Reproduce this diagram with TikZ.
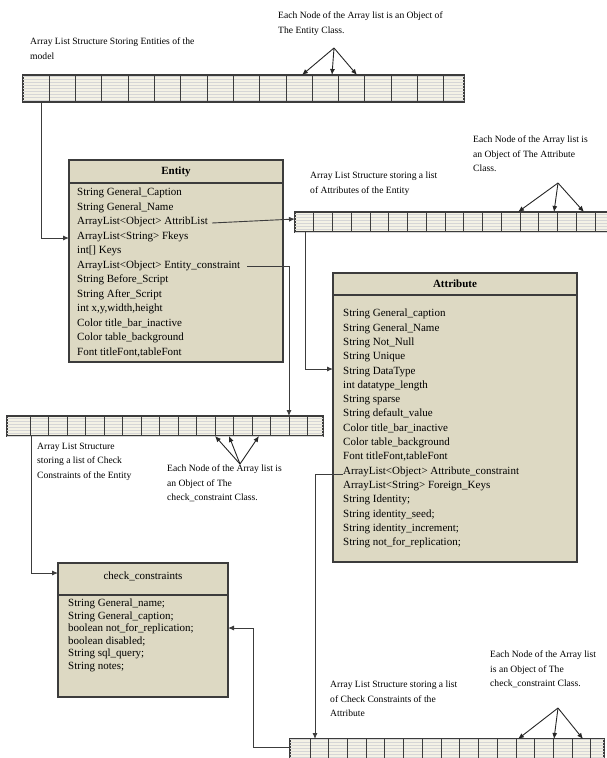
\documentclass[tikz,border=0pt]{standalone}
\usepackage{fontspec}
\setmainfont{Liberation Serif}
\usetikzlibrary{arrows.meta,patterns}
\definecolor{boxfill}{HTML}{DDD9C3}
\definecolor{cellfill}{HTML}{F4F2E6}
\definecolor{edge}{HTML}{3C3C3C}
\tikzset{
  arraybar/.style={draw=edge,line width=1.2pt,fill=cellfill,postaction={pattern=horizontal lines,pattern color=black!16},inner sep=0pt,outer sep=0pt,anchor=north west},
  divider/.style={draw=edge,line width=1pt},
  classbox/.style={draw=edge,line width=1.3pt,fill=boxfill,inner sep=0pt,outer sep=0pt,anchor=north west},
  titlesep/.style={draw=edge,line width=1.1pt},
  classtitle/.style={inner sep=0pt,font=\fontsize{11}{13}\selectfont\bfseries},
  fields/.style={anchor=north west,inner sep=0pt,align=left},
  note/.style={anchor=north west,inner sep=0pt,align=left,font=\fontsize{9.6}{14.3}\selectfont},
  link/.style={draw=edge,line width=0.9pt,-{Latex[length=6pt,width=5pt]}},
  pointer/.style={draw=black!85,line width=0.9pt,-{Latex[length=6pt,width=5pt]}}
}
\begin{document}
\begin{tikzpicture}[x=1pt,y=-1pt]
\useasboundingbox (0,0) rectangle (607,758);
\clip (0,0) rectangle (607,758);

\node[arraybar,minimum width=441,minimum height=27] (arr1) at (23,75) {};
\foreach \k in {1,...,16}
  \draw[divider] ({23+26.3*\k},75) -- ++(0,27);

\node[arraybar,minimum width=330,minimum height=20] (arr2) at (295,212) {};
\foreach \k in {1,...,17}
  \draw[divider] ({295+18.75*\k},212) -- ++(0,20);

\node[arraybar,minimum width=316,minimum height=20] (arr3) at (7,416) {};
\foreach \k in {0,...,15}
  \draw[divider] ({30+18.53*\k},416) -- ++(0,20);

\node[arraybar,minimum width=314,minimum height=30] (arr4) at (290,739) {};
\foreach \k in {0,...,15}
  \draw[divider] ({310+18.73*\k},739) -- ++(0,30);

\node[classbox,minimum width=214,minimum height=202] (entity) at (69,160) {};
\draw[titlesep] ([yshift=-23pt]entity.north west) -- ([yshift=-23pt]entity.north east);
\node[classtitle] (entity-title) at ([yshift=-12pt]entity.north) {Entity};
\node[fields,font=\fontsize{11}{14.5}\selectfont] (entity-fields) at (77,188) {String General\_Caption\\
String General\_Name\\
ArrayList<Object> AttribList\\
ArrayList<String> Fkeys\\
int[] Keys\\
ArrayList<Object> Entity\_constraint\\
String Before\_Script\\
String After\_Script\\
int x,y,width,height\\
Color title\_bar\_inactive\\
Color table\_background\\
Font titleFont,tableFont};

\node[classbox,minimum width=244,minimum height=289] (attribute) at (333,273) {};
\draw[titlesep] ([yshift=-22pt]attribute.north west) -- ([yshift=-22pt]attribute.north east);
\node[classtitle] (attribute-title) at ([yshift=-11pt]attribute.north) {Attribute};
\node[fields,font=\fontsize{11}{14.3}\selectfont] (attribute-fields) at (343,309) {String General\_caption\\
String General\_Name\\
String Not\_Null\\
String Unique\\
String DataType\\
int datatype\_length\\
String sparse\\
String default\_value\\
Color title\_bar\_inactive\\
Color table\_background\\
Font titleFont,tableFont\\
ArrayList<Object> Attribute\_constraint\\
ArrayList<String> Foreign\_Keys\\
String Identity;\\
String identity\_seed;\\
String identity\_increment;\\
String not\_for\_replication;};

\node[classbox,minimum width=170,minimum height=134] (check) at (58,563) {};
\draw[titlesep] ([yshift=-32pt]check.north west) -- ([yshift=-32pt]check.north east);
\node[classtitle,font=\fontsize{11}{13}\selectfont] (check-title) at ([yshift=-13pt]check.north) {check\_constraints};
\node[fields,font=\fontsize{11}{12.5}\selectfont] (check-fields) at (68,599) {String General\_name;\\
String General\_caption;\\
boolean not\_for\_replication;\\
boolean disabled;\\
String sql\_query;\\
String notes;};

\node[note] (note-arr1) at (30,38) {Array List Structure Storing Entities of the\\model};
\node[note] (note-obj1) at (278,12) {Each Node of the Array list is an Object of\\The Entity Class.};
\node[note] (note-arr2) at (310,172) {Array List Structure storing a list\\of Attributes of the Entity};
\node[note] (note-obj2) at (473,136) {Each Node of the Array list is\\an Object of The Attribute\\Class.};
\node[note] (note-arr3) at (37,443) {Array List Structure\\storing a list of Check\\Constraints of the Entity};
\node[note] (note-obj3) at (167,465) {Each Node of the Array list is\\an Object of The\\check\_constraint Class.};
\node[note] (note-arr4) at (330,681) {Array List Structure storing a list\\of Check Constraints of the\\Attribute};
\node[note] (note-obj4) at (490,651) {Each Node of the Array list\\is an Object of The\\check\_constraint Class.};

\coordinate (apex1) at (334,48);
\coordinate (apex2) at (558,183);
\coordinate (apex3) at (240,464);
\coordinate (apex4) at (558,708);
\foreach \t in {302,332,357}
  \draw[pointer] (apex1) -- (\t,0 |- arr1.north);
\foreach \t in {518,554,584}
  \draw[pointer] (apex2) -- (\t,0 |- arr2.north);
\foreach \t in {215,229,259}
  \draw[pointer] (apex3) -- (\t,0 |- arr3.south);
\foreach \t in {518,554,583}
  \draw[pointer] (apex4) -- (\t,0 |- arr4.north);

\coordinate (arr1-out) at (41,102);
\coordinate (entity-in) at (69,238);
\coordinate (attrib-out) at (212,223);
\coordinate (constraint-out) at (247,266);
\coordinate (arr2-out) at (305,232);
\coordinate (attribute-in) at (333,369);
\coordinate (arr3-out) at (31,436);
\coordinate (check-in) at (58,573);
\coordinate (attrconstraint-out) at (343,474);
\coordinate (arr4-out) at (290,747);
\coordinate (check-back) at (228,628);

\draw[link] (arr1-out) |- (entity-in);
\draw[link] (attrib-out) -- ([yshift=3pt]arr2.west);
\draw[link] (constraint-out) -| (289,0 |- arr3.north);
\draw[link] (arr2-out) |- (attribute-in);
\draw[link] (arr3-out) |- (check-in);
\draw[link] (attrconstraint-out) -| (315,0 |- arr4.north);
\draw[link] (arr4-out) -- (253,747) |- (check-back);
\end{tikzpicture}
\end{document}
